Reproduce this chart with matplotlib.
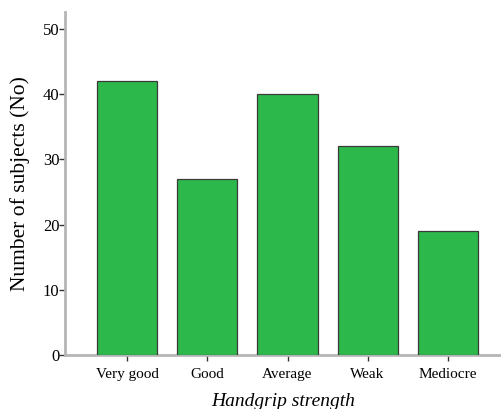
import matplotlib
matplotlib.use("Agg")
import matplotlib.pyplot as plt

categories = ["Very good", "Good", "Average", "Weak", "Mediocre"]
subjects = [42, 27, 40, 32, 19]
yticks = [0, 10, 20, 30, 40, 50]

plt.rcParams['font.family'] = ['Liberation Serif', 'DejaVu Serif']

fig = plt.figure(figsize=(5.02, 4.09), dpi=100)
ax = fig.add_axes([0.1295, 0.132, 0.8705, 0.839])

x = range(len(categories))
ax.bar(x, subjects, width=0.75, color="#2db84b", edgecolor="#3a3a3a", linewidth=0.9, zorder=3)

ax.set_xlim(-0.78, 4.68)
ax.set_ylim(0, 52.6)
ax.set_yticks(yticks)
ax.set_xticks(list(x))
ax.set_xticklabels(categories, fontsize=11)
ax.tick_params(axis='y', labelsize=12, length=4, width=1, color="#333333", pad=0)
ax.tick_params(axis='x', length=4, width=1, color="#333333", pad=5)

for side in ["top", "right"]:
    ax.spines[side].set_visible(False)
for side in ["left", "bottom"]:
    ax.spines[side].set_color("#b5b5b5")
    ax.spines[side].set_linewidth(2)

ax.set_ylabel("Number of subjects (No)", fontsize=15.5, labelpad=9)
ax.set_xlabel("Handgrip strength", fontsize=14, style="italic", labelpad=9)

fig.savefig("out.png", dpi=100)
